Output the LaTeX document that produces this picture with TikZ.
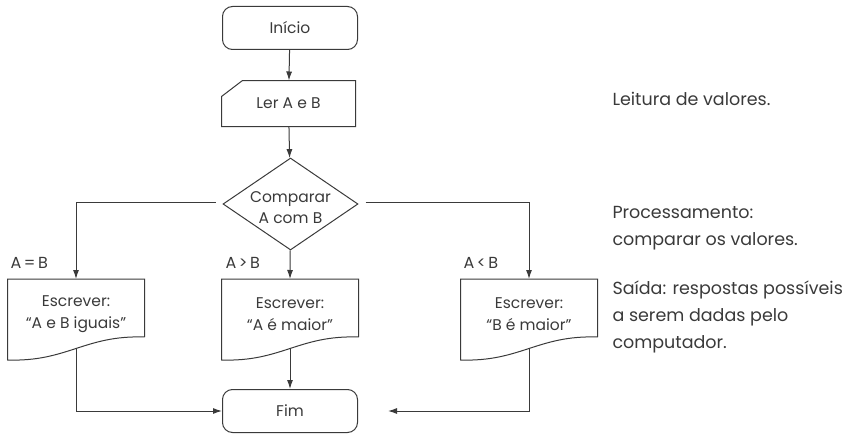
\documentclass[tikz,border=0pt]{standalone}
\usepackage{fontspec}
\setmainfont{Poppins}
\usetikzlibrary{shapes.geometric,arrows.meta,calc}

\definecolor{inkgray}{RGB}{58,58,58}

\tikzset{every picture/.style={line width=1pt}}
\tikzset{
  boxtext/.style={font=\fontsize{15.5}{21.5}\selectfont, text=inkgray, align=center, inner sep=0pt},
  termbox/.style={boxtext, draw=inkgray, rounded corners=10pt, minimum width=135pt, minimum height=43pt},
  iobox/.style={boxtext, minimum width=133pt, minimum height=45pt},
  docbox/.style={boxtext},
  decbox/.style={draw=inkgray, diamond, minimum width=135pt, minimum height=92pt, inner sep=0pt},
  sidetext/.style={font=\fontsize{17.5}{27}\selectfont, text=inkgray, align=left, inner sep=0pt},
  branchlab/.style={font=\fontsize{16}{18}\selectfont, text=inkgray, inner sep=0pt},
  flow/.style={draw=inkgray, -{Latex[length=9pt,width=6pt]}}
}

% outline of a document symbol round the text node #1, wavy bottom edge
\newcommand{\docoutline}[1]{%
  \draw[inkgray] ($(#1)+(68.5,23)$) -- ($(#1)+(68.5,-35)$) -- ($(#1)+(-68.5,-35)$) -- ($(#1)+(-68.5,46)$)
    .. controls ($(#1)+(-8.5,48)$) and ($(#1)+(8.5,21)$) .. ($(#1)+(68.5,23)$);
  \coordinate (#1-top) at ($(#1)+(0,-35)$);
  \coordinate (#1-w) at ($(#1)+(0,34.5)$);
}

\begin{document}
\begin{tikzpicture}[x=1pt,y=1pt,yscale=-1,xscale=1]
\useasboundingbox (0,0) rectangle (843,436);

%Shape: Rounded Rect
\node (inicio) [termbox] at (290,28) {Início};
%Shape: Manual input
\node (ler) [iobox] at (288.5,103.5) {Ler A e B};
\draw[inkgray] (ler.south west) -- ++(0,-30) -- ($(ler.north west)+(21,0)$) -- (ler.north east) -- (ler.south east) -- cycle;
%Shape: Diamond
\node (cmp) [decbox] at (290.5,204) {};
\node (cmpText) [boxtext] at (290.5,207.5) {Comparar\\A com B};

%Shape: Documents
\node (docEq) [docbox] at (76,314) {Escrever:\\“A e B iguais”};
\docoutline{docEq}
\node (docGt) [docbox] at (290,314) {Escrever:\\“A é maior”};
\docoutline{docGt}
\node (docLt) [docbox] at (529,314) {Escrever:\\“B é maior”};
\docoutline{docLt}

%Shape: Rounded Rect
\node (fim) [termbox] at (290,411) {Fim};
\coordinate (fimR) at ($(fim.east)+(30,0)$);

%Straight Lines
\draw[flow] (inicio) -- (ler);
\draw[flow] (ler) -- (cmp);
\draw[flow] ($(cmp.west)+(-7,-2)$) -| (docEq-top);
\draw[flow] (cmp) -- (docGt-top);
\draw[flow] ($(cmp.east)+(7,-2)$) -| (docLt-top);
\draw[flow] (docEq-w) |- (fim.west);
\draw[flow] (docGt-w) -- (fim);
\draw[flow] (docLt-w) |- (fimR);

% Text Node
\node (labEq) [branchlab, anchor=base west] at (10,268) {A\,=\,B};
% Text Node
\node (labGt) [branchlab, anchor=base west] at (225,268) {A\,>\,B};
% Text Node
\node (labLt) [branchlab, anchor=base west] at (463,268) {A\,<\,B};

% Text Node
\node (noteIn) [sidetext, anchor=base west] at (612,105) {Leitura de valores.};
% Text Node
\node (noteProc) [sidetext, anchor=base west] at (612,245) {Processamento:\\comparar os valores.};
% Text Node
\node (noteOut) [sidetext, anchor=base west] at (612,348) {Saída: respostas possíveis\\a serem dadas pelo\\computador.};

\end{tikzpicture}
\end{document}
